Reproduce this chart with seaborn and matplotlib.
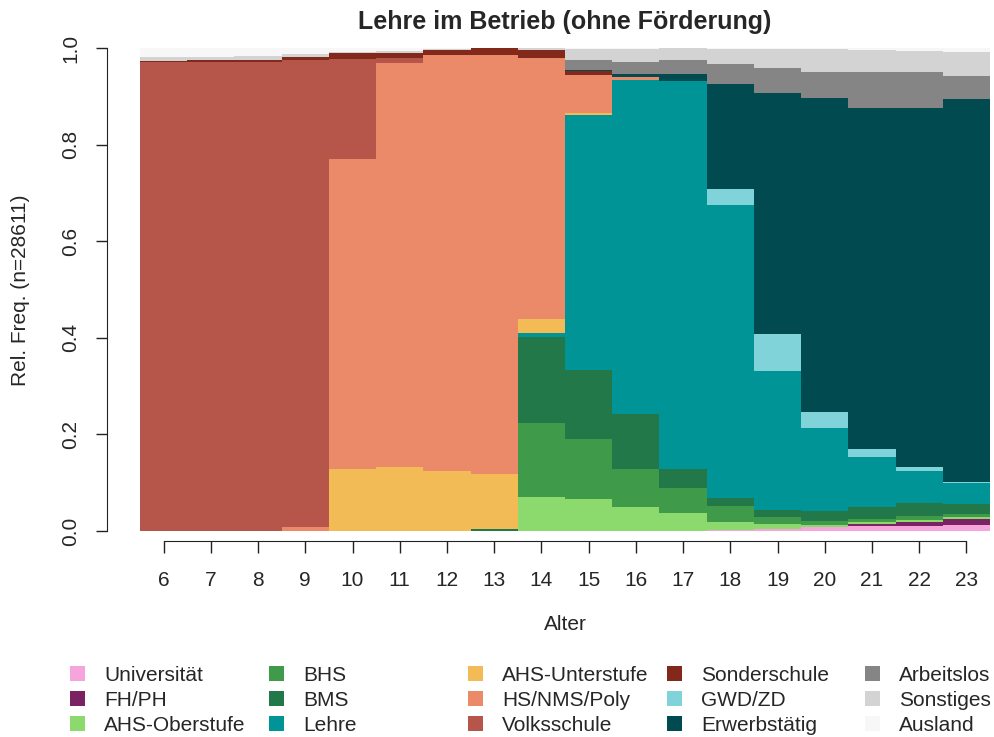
import pandas as pd
import matplotlib.pyplot as plt
from matplotlib.patches import Patch
import seaborn as sns

# ------------------------------------------------------- #
#                          DATEN                          #
# ------------------------------------------------------- #
alter = [6, 7, 8, 9, 10, 11, 12, 13, 14, 15, 16, 17, 18, 19, 20, 21, 22, 23]

#                  Anteile je Alter (von unten nach oben)  #
universitaet  = [0, 0, 0, 0, 0, 0, 0, 0, 0, 0, 0, 0, 0.003, 0.005, 0.008, 0.010, 0.011, 0.012]
fh_ph         = [0, 0, 0, 0, 0, 0, 0, 0, 0, 0, 0, 0, 0, 0, 0.001, 0.0045, 0.008, 0.012]
ahs_ober      = [0, 0, 0, 0, 0, 0, 0, 0, 0.071, 0.066, 0.050, 0.038, 0.016, 0.009, 0.003, 0.0045, 0.004, 0.004]
bhs           = [0, 0, 0, 0, 0, 0, 0, 0, 0.152, 0.124, 0.078, 0.052, 0.033, 0.014, 0.009, 0.006, 0.009, 0.007]
bms           = [0, 0, 0, 0, 0, 0, 0, 0.004, 0.179, 0.143, 0.115, 0.039, 0.017, 0.015, 0.020, 0.025, 0.025, 0.020]
lehre         = [0, 0, 0, 0, 0, 0, 0, 0, 0.007, 0.529, 0.691, 0.803, 0.606, 0.288, 0.172, 0.103, 0.067, 0.044]
ahs_unter     = [0, 0, 0, 0, 0.128, 0.133, 0.124, 0.115, 0.030, 0.004, 0, 0, 0, 0, 0, 0, 0, 0]
hs_nms_poly   = [0, 0, 0, 0.008, 0.642, 0.836, 0.861, 0.866, 0.540, 0.079, 0.006, 0, 0, 0, 0, 0, 0, 0]
volksschule   = [0.970, 0.970, 0.971, 0.967, 0.207, 0.011, 0, 0, 0, 0, 0, 0, 0, 0, 0, 0, 0, 0]
sonderschule  = [0.004, 0.005, 0.005, 0.007, 0.012, 0.010, 0.010, 0.015, 0.017, 0.007, 0, 0, 0, 0, 0, 0, 0, 0]
gwd_zd        = [0, 0, 0, 0, 0, 0, 0, 0, 0, 0, 0, 0, 0.034, 0.076, 0.034, 0.016, 0.008, 0.003]
erwerbstaetig = [0, 0, 0, 0, 0, 0, 0, 0, 0, 0.003, 0.006, 0.015, 0.216, 0.500, 0.649, 0.706, 0.743, 0.792]
arbeitslos    = [0, 0, 0, 0, 0, 0, 0, 0, 0, 0.021, 0.026, 0.028, 0.042, 0.052, 0.055, 0.076, 0.076, 0.048]
sonstiges     = [0.008, 0.007, 0.007, 0.006, 0.003, 0.004, 0.003, 0, 0.004, 0.022, 0.026, 0.024, 0.031, 0.038, 0.047, 0.045, 0.043, 0.049]
ausland       = [0.018, 0.018, 0.017, 0.012, 0.008, 0.006, 0.002, 0, 0, 0.002, 0.002, 0.001, 0.002, 0.002, 0.003, 0.004, 0.006, 0.009]

kategorien = ['Universität', 'FH/PH', 'AHS-Oberstufe', 'BHS', 'BMS', 'Lehre',
              'AHS-Unterstufe', 'HS/NMS/Poly', 'Volksschule', 'Sonderschule',
              'GWD/ZD', 'Erwerbstätig', 'Arbeitslos', 'Sonstiges', 'Ausland']
werte = [universitaet, fh_ph, ahs_ober, bhs, bms, lehre, ahs_unter, hs_nms_poly,
         volksschule, sonderschule, gwd_zd, erwerbstaetig, arbeitslos, sonstiges, ausland]
farben = ['#F5A5DC', '#7A2263', '#8CD96D', '#3F9B4A', '#237849', '#009497',
          '#F2BB55', '#EA8A68', '#B6564A', '#82291C', '#80D4D9', '#004A50',
          '#858585', '#D3D3D3', '#F7F7F7']

df = pd.DataFrame([
    {'alter': a, 'status': k, 'anteil': v}
    for k, serie in zip(kategorien, werte)
    for a, v in zip(alter, serie)
])

# ------------------------------------------------------- #
#                          GRAFIK                         #
# ------------------------------------------------------- #
sns.set_style('ticks')
plt.rcParams['font.family'] = ['Liberation Sans', 'DejaVu Sans']

fig = plt.figure(figsize=(9.94, 7.37), dpi=100)
ax = fig.add_axes([140 / 994, 1 - 531 / 737, 850 / 994, 483 / 737])

# seaborn stapelt die erste Stufe oben -> Reihenfolge umdrehen
sns.histplot(data=df, x='alter', weights='anteil', hue='status',
             hue_order=kategorien[::-1], palette=dict(zip(kategorien, farben)),
             multiple='stack', discrete=True, element='step', fill=True,
             alpha=1, linewidth=0, legend=False, ax=ax)

ax.set_xlim(5.5, 23.5)
ax.set_ylim(0, 1)
ax.set_xticks(alter)
ax.set_yticks([0, 0.2, 0.4, 0.6, 0.8, 1.0])
ax.set_xlabel('')
ax.set_ylabel('')
sns.despine(ax=ax, offset={'left': 24, 'bottom': 7}, trim=True)
ax.set_yticks([0, 0.2, 0.4, 0.6, 0.8, 1.0], ['0.0', '0.2', '0.4', '0.6', '0.8', '1.0'])
ax.tick_params(axis='x', length=8.5, width=1, labelsize=15, pad=13, color='#222222')
ax.tick_params(axis='y', length=8, width=1, labelsize=15, pad=11, color='#222222',
               labelrotation=90)
for lbl in ax.get_yticklabels():
    lbl.set_va('center')
ax.spines['left'].set_color('#222222')
ax.spines['bottom'].set_color('#222222')

ax.set_title('Lehre im Betrieb (ohne Förderung)', fontsize=18, fontweight='bold', pad=14)
fig.text(565 / 994, 1 - 625 / 737, 'Alter', ha='center', va='center', fontsize=15)
fig.text(21 / 994, 1 - 290 / 737, 'Rel. Freq. (n=28611)', ha='center', va='center',
         rotation=90, fontsize=15)

# Legende: fuenf Spalten zu je drei Eintraegen
spalten_x = [70, 269, 468, 667, 865]
for i, x in enumerate(spalten_x):
    griffe = [Patch(facecolor=farben[j], edgecolor='none', label=kategorien[j])
              for j in range(3 * i, 3 * i + 3)]
    fig.legend(handles=griffe, loc='upper left', bbox_to_anchor=(x / 994, 1 - 666 / 737),
               frameon=False, fontsize=15, handlelength=0.72, handleheight=0.72,
               handletextpad=0.92, labelspacing=0.28, borderpad=0, borderaxespad=0)

plt.savefig('out.png', dpi=100)
